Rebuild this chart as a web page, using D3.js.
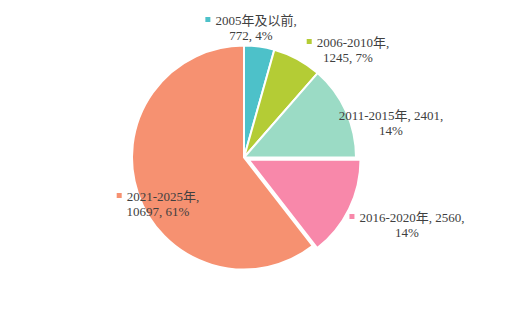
<!DOCTYPE html>
<html>
<head>
<meta charset="utf-8">
<script src="https://cdn.jsdelivr.net/npm/d3@7"></script>
<style>
  body { margin: 0; background: #fff; }
  svg text { font-family: "Liberation Serif", "Times New Roman", "Noto Sans CJK SC", serif; font-size: 13px; fill: #404040; }
</style>
</head>
<body>
<div id="chart"></div>
<script>
var svgWidth = 507;
var svgHeight = 320;

// data
var categories = ["2005年及以前", "2006-2010年", "2011-2015年", "2016-2020年", "2021-2025年"];
var values = [772, 1245, 2401, 2560, 10697];
var percents = ["4%", "7%", "14%", "14%", "61%"];
var colors = ["#4dc1c9", "#b4cc35", "#9bdbc5", "#f888aa", "#f69171"];

// layout: label block center x, first baseline, and how the text is broken
var labelPos = [[251, 25], [348, 47], [391, 120], [407, 222], [158, 201]];
var showMarker = [true, true, false, true, true];
var labelLines = [
  function(i) { return [categories[i] + ",", values[i] + ", " + percents[i]]; },
  function(i) { return [categories[i] + ",", values[i] + ", " + percents[i]]; },
  function(i) { return [categories[i] + ", " + values[i] + ",", percents[i]]; },
  function(i) { return [categories[i] + ", " + values[i] + ",", percents[i]]; },
  function(i) { return [categories[i] + ",", values[i] + ", " + percents[i]]; }
];

var cx = 244, cy = 157.5, radius = 112;
var explode = [0, 0, 0, 5, 0];

var svg = d3.select("#chart")
  .append("svg")
  .attr("width", svgWidth)
  .attr("height", svgHeight);

var pie = d3.pie().sort(null).value(d => d);
var arcs = pie(values);

var arc = d3.arc().innerRadius(0).outerRadius(radius);

var pieGroup = svg.append("g")
  .attr("transform", `translate(${cx}, ${cy})`);

pieGroup.selectAll("path")
  .data(arcs)
  .enter()
  .append("path")
  .attr("d", arc)
  .attr("fill", (d, i) => colors[i])
  .attr("stroke", "#fff")
  .attr("stroke-width", 2)
  .attr("stroke-linejoin", "round")
  .attr("transform", function(d, i) {
    var a = (d.startAngle + d.endAngle) / 2;
    return `translate(${Math.sin(a) * explode[i]}, ${-Math.cos(a) * explode[i]})`;
  });

// labels
arcs.forEach(function(d, i) {
  var lines = labelLines[i](i);
  var g = svg.append("g")
    .attr("transform", `translate(${labelPos[i][0]}, ${labelPos[i][1]})`);

  var t1 = g.append("text").text(lines[0]);
  var w = t1.node().getComputedTextLength();
  var markerW = showMarker[i] ? 5 : 0, gap = showMarker[i] ? 5 : 0;
  var total = markerW + gap + w;
  if (showMarker[i]) {
    g.append("rect")
      .attr("x", -total / 2)
      .attr("y", -8)
      .attr("width", markerW)
      .attr("height", markerW)
      .attr("fill", colors[i]);
  }
  t1.attr("x", -total / 2 + markerW + gap);

  g.append("text")
    .attr("x", 0)
    .attr("y", 14.5)
    .attr("text-anchor", "middle")
    .text(lines[1]);
});
</script>
</body>
</html>
